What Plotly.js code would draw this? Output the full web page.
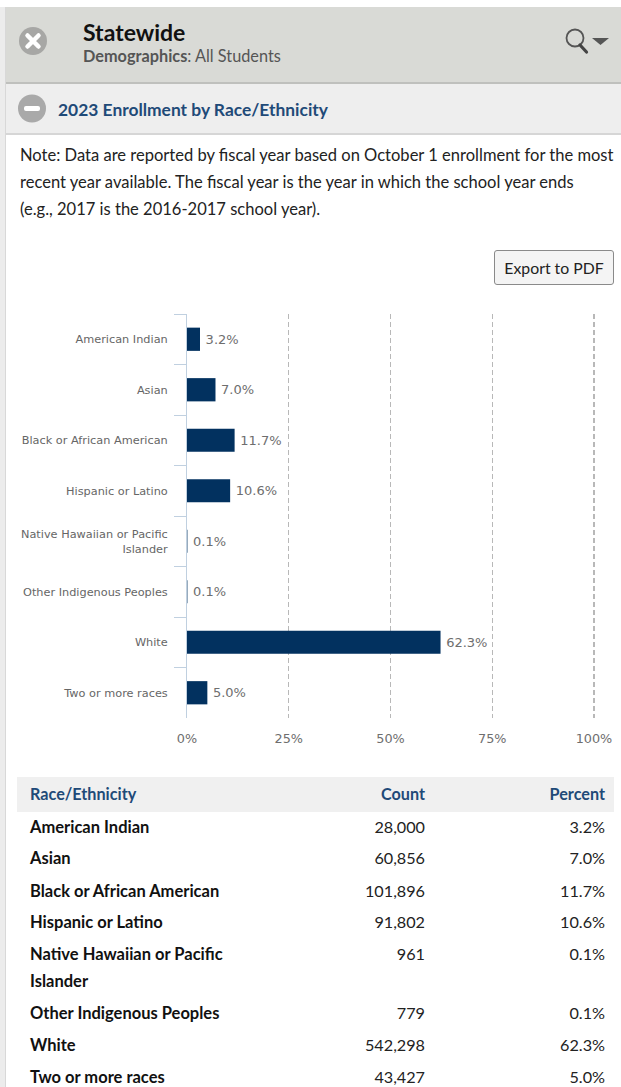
<!DOCTYPE html>
<html>
<head>
<meta charset="utf-8">
<title>2023 Enrollment by Race/Ethnicity</title>
<script src="https://cdn.plot.ly/plotly-3.0.1.min.js"></script>
<style>
  html, body { margin: 0; padding: 0; background: #fff; }
  body { width: 621px; height: 1087px; position: relative; overflow: hidden;
         font-family: Lato, "Open Sans", sans-serif; color: #222; }
  .abs { position: absolute; white-space: nowrap; }
  #rail { position: absolute; left: 0; top: 7px; width: 5px; height: 1080px; background: #ececec; border-right: 1px solid #d8d8d8; }
  #head { position: absolute; left: 6px; top: 7px; width: 615px; height: 75px; background: #d9dad6; border-bottom: 2px solid #bfc0bd; }
  #sub  { position: absolute; left: 6px; top: 84px; width: 615px; height: 49px; background: #eeeeee; border-bottom: 2px solid #d6d6d6; }
  #chart { position: absolute; left: 0; top: 290px; width: 621px; height: 480px; }
  #btn { position: absolute; left: 494px; top: 250px; width: 118px; height: 33px; border: 1px solid #8a8a8a; border-radius: 3px;
         background: #f4f4f4; font-size: 15.8px; line-height: 33px; text-align: center; color: #222; }
  #thead { position: absolute; left: 17px; top: 777px; width: 597px; height: 35px; background: #f0f0f0; }
  .cell { position: absolute; white-space: nowrap; font-size: 16.2px; line-height: 20px; }
  .r { text-align: right; }
  .th { color: #1f4a78; font-weight: 700; }
  .note { font-size: 16.55px; line-height: 20px; color: #222; left: 20px; }
</style>
</head>
<body>
<div id="rail"></div>
<div id="head"></div>
<div id="sub"></div>

<svg class="abs" style="left:0;top:0" width="621" height="140">
  <circle cx="33" cy="41" r="14" fill="#a7a7a5"/>
  <path d="M27.5 35.5 L38.5 46.5 M38.5 35.5 L27.5 46.5" stroke="#fff" stroke-width="4.5" stroke-linecap="round"/>
  <circle cx="32" cy="108.5" r="14" fill="#a9a9a9"/>
  <rect x="24" y="106" width="16" height="5" rx="2" fill="#fff"/>
  <circle cx="575" cy="38" r="8.5" fill="none" stroke="#555" stroke-width="1.8"/>
  <path d="M580 45 L586.5 52" stroke="#444" stroke-width="3.2" stroke-linecap="round"/>
  <path d="M592 38 H609 L600.5 45 Z" fill="#555"/>
</svg>

<div class="abs" style="left:83px;top:18px;font-size:23px;line-height:28px;font-weight:700;color:#111;">Statewide</div>
<div class="abs" style="left:83px;top:46px;font-size:16.3px;line-height:20px;color:#555;"><b>Demographics</b>: All Students</div>
<div class="abs" style="left:58px;top:99px;font-size:17.4px;line-height:22px;font-weight:700;color:#1f4a78;">2023 Enrollment by Race/Ethnicity</div>

<div class="abs note" style="top:145px;">Note: Data are reported by fiscal year based on October 1 enrollment for the most</div>
<div class="abs note" style="top:172px;">recent year available. The fiscal year is the year in which the school year ends</div>
<div class="abs note" style="top:199px;">(e.g., 2017 is the 2016-2017 school year).</div>

<div id="btn">Export to PDF</div>
<div id="chart"></div>
<div id="thead"></div>
<div id="table"></div>

<script>
// Enrollment by race/ethnicity, 2023
const groups = ["American Indian", "Asian", "Black or African American", "Hispanic or Latino",
                "Native Hawaiian or Pacific Islander", "Other Indigenous Peoples", "White", "Two or more races"];
const percents = [3.2, 7.0, 11.7, 10.6, 0.1, 0.1, 62.3, 5.0];
const counts = [28000, 60856, 101896, 91802, 961, 779, 542298, 43427];
const axisTicks = [0, 25, 50, 75, 100];

const pct = v => v.toFixed(1) + "%";
const wrapLabel = s => s.replace("or Pacific Islander", "or Pacific<br>Islander");

Plotly.newPlot("chart", [{
  type: "bar",
  orientation: "h",
  y: groups.map(wrapLabel),
  x: percents,
  width: 0.46,
  marker: { color: "#02315f", line: { width: 0 } },
  text: percents.map(v => "\u2009" + pct(v)),
  textposition: "outside",
  cliponaxis: false,
  textfont: { family: "DejaVu Sans", size: 13, color: "#6e6e6e" },
  hoverinfo: "skip"
}], {
  width: 621,
  height: 480,
  // the range runs a little past 100 so the last gridline stays visible
  margin: { l: 187, r: 25, t: 24, b: 52, pad: 0 },
  paper_bgcolor: "rgba(0,0,0,0)",
  plot_bgcolor: "rgba(0,0,0,0)",
  showlegend: false,
  xaxis: {
    range: [0, 100.5],
    tickvals: axisTicks,
    ticktext: axisTicks.map(v => v + "%"),
    ticks: "",
    ticklabelstandoff: 11,
    showline: false,
    zeroline: false,
    showgrid: true,
    gridcolor: "#b8b8b8",
    griddash: "5px,3px",
    gridwidth: 1.2,
    tickfont: { family: "DejaVu Sans", size: 12.8, color: "#6e6e6e" }
  },
  yaxis: {
    type: "category",
    range: [7.5, -0.5],
    tickson: "boundaries",
    ticks: "outside",
    ticklen: 12,
    tickwidth: 1,
    tickcolor: "#c0d0e0",
    showline: true,
    linecolor: "#c0d0e0",
    linewidth: 1,
    showgrid: false,
    zeroline: false,
    ticklabelstandoff: 16,
    tickfont: { family: "DejaVu Sans", size: 11.3, color: "#666666" }
  }
}, { displayModeBar: false, staticPlot: true });

// Data table under the chart, laid out by vertical row centres
const rowCentres = [827, 858, 891, 922, 954, 1013, 1045, 1077];
const table = document.getElementById("table");
function cell(text, y, opts) {
  const d = document.createElement("div");
  d.className = "cell" + (opts.right ? " r" : "") + (opts.head ? " th" : "");
  d.textContent = text;
  d.style.top = (y - 10) + "px";
  if (opts.right) { d.style.right = (621 - opts.edge) + "px"; } else { d.style.left = opts.edge + "px"; }
  if (opts.bold) { d.style.fontWeight = "700"; d.style.color = "#111"; d.style.fontSize = "16.5px"; }
  table.appendChild(d);
}
cell("Race/Ethnicity", 794, { edge: 30, head: true });
cell("Count", 794, { edge: 425, right: true, head: true });
cell("Percent", 794, { edge: 605, right: true, head: true });
groups.forEach((g, i) => {
  const y = rowCentres[i];
  if (g.endsWith("or Pacific Islander")) {
    cell(g.replace(" Islander", ""), y, { edge: 30, bold: true });
    cell("Islander", y + 27, { edge: 30, bold: true });
  } else {
    cell(g, y, { edge: 30, bold: true });
  }
  cell(counts[i].toLocaleString("en-US"), y, { edge: 425, right: true });
  cell(pct(percents[i]), y, { edge: 605, right: true });
});
</script>
</body>
</html>
